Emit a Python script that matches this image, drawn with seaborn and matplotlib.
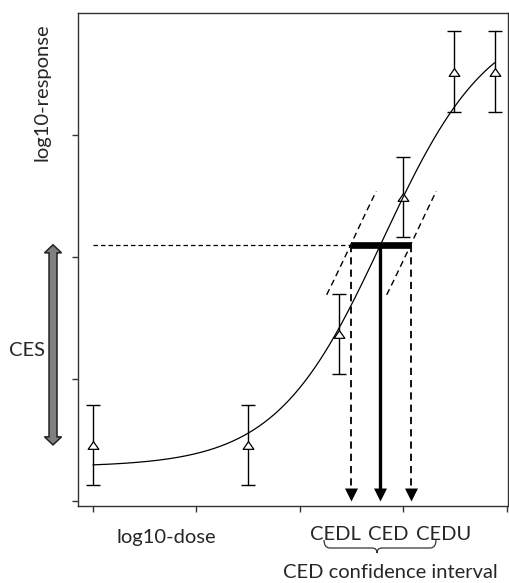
import numpy as np
import pandas as pd
import matplotlib
matplotlib.use("Agg")
import matplotlib.pyplot as plt
import seaborn as sns
from matplotlib.path import Path
from matplotlib.patches import PathPatch, Polygon
from matplotlib.transforms import Affine2D, blended_transform_factory

# Observed group means on the log10 scale, with confidence half-widths
log_dose = [0.0, 1.5, 2.38, 3.0, 3.49, 3.88]
log_resp = [0.46, 0.46, 1.37, 2.49, 3.52, 3.52]
half_ci = [0.33, 0.33, 0.33, 0.33, 0.33, 0.33]

# Fitted sigmoid dose-response model (log-dose scale)
lower, upper, steepness, midpoint = 0.28, 4.0, 1.94, 2.80

# Critical effect size level and confidence bounds of the CED
ces_level = 2.10
cedl, cedu = 2.49, 3.07
band_lo, band_hi = 1.69, 2.54   # response range of the shifted bound curves

x_ticks = [0, 1, 2, 3, 4]
y_ticks = [0, 1, 2, 3]

W, H = 510, 583


def model(x):
    return lower + (upper - lower) / (1.0 + np.exp(-steepness * (x - midpoint)))


def inverse(y):
    return midpoint - np.log((upper - lower) / (y - lower) - 1.0) / steepness


ced = inverse(ces_level)

sns.set_style("ticks")
plt.rcParams["font.family"] = ["Lato", "DejaVu Sans"]

fig = plt.figure(figsize=(W / 100, H / 100), dpi=100)
ax = fig.add_axes([78 / W, 1 - 506 / H, (508 - 78) / W, (506 - 13) / H])

# fitted curve
xc = np.linspace(log_dose[0], log_dose[-1], 400)
curve = pd.DataFrame({"log_dose": xc, "log_resp": model(xc)})
sns.lineplot(data=curve, x="log_dose", y="log_resp", ax=ax, color="black",
             lw=0.9, zorder=4)

# data: error bars and open (slightly flattened) triangles
ax.errorbar(log_dose, log_resp, yerr=half_ci, fmt="none", ecolor="black",
            elinewidth=1.0, capsize=4.7, capthick=1.0, zorder=2)
tri = Path([(-1.0, -0.72), (1.0, -0.72), (0.0, 0.72), (-1.0, -0.72)],
           [Path.MOVETO, Path.LINETO, Path.LINETO, Path.CLOSEPOLY])
ax.plot(log_dose, log_resp, linestyle="none", marker=tri, ms=7.7,
        markerfacecolor="white", markeredgecolor="black", markeredgewidth=0.9,
        zorder=3)

# curves shifted to the lower and upper CED bounds
for bound in (cedl, cedu):
    shift = bound - ced
    xs = np.linspace(inverse(band_lo), inverse(band_hi), 50)
    ax.plot(xs + shift, model(xs), color="black", lw=1.0,
            linestyle=(0, (4.5, 3.0)), zorder=4)

# CES level and the CED interval bar
ax.plot([log_dose[0], cedl], [ces_level, ces_level], color="black", lw=0.9,
        linestyle=(0, (3.6, 2.4)), zorder=4)
ax.plot([cedl, cedu], [ces_level, ces_level], color="black", lw=4.8,
        solid_capstyle="butt", zorder=5)

# arrows down to the dose axis
arrow_tip = 0.0
head = Path([(0, 0), (-0.5, 1), (0.5, 1), (0, 0)],
            [Path.MOVETO, Path.LINETO, Path.LINETO, Path.CLOSEPOLY])
for xv, style, lw in ((cedl, (0, (4.0, 2.8)), 1.3), (ced, "-", 2.4),
                      (cedu, (0, (4.0, 2.8)), 1.3)):
    ax.plot([xv, xv], [ces_level, arrow_tip + 0.1], color="black", lw=lw,
            linestyle=style, zorder=5)
    ax.plot([xv], [arrow_tip], marker=head, ms=18.7, color="black",
            markeredgewidth=0, zorder=6, clip_on=False)

# axis frame and ticks without numbers
spine_col = "#333333"
for s in ax.spines.values():
    s.set_visible(True)
    s.set_color(spine_col)
    s.set_linewidth(1.0)
ax.set_xlim(-0.145, 4.01)
ax.set_ylim(-0.041, 4.0)
ax.set_xticks(x_ticks)
ax.set_yticks(y_ticks)
ax.set_xticklabels([])
ax.set_yticklabels([])
ax.tick_params(direction="out", length=4.3, width=1.0, color=spine_col)
ax.set_xlabel("")
ax.set_ylabel("")

# CES double arrow outside the axis
bt = blended_transform_factory(ax.transAxes, ax.transData)
cx, sw, hw = -0.0581, 0.0093, 0.0198
hl = 0.066
y0, y1 = log_resp[0], ces_level
verts = [(cx, y1), (cx - hw, y1 - hl), (cx - sw, y1 - hl), (cx - sw, y0 + hl),
         (cx - hw, y0 + hl), (cx, y0), (cx + hw, y0 + hl), (cx + sw, y0 + hl),
         (cx + sw, y1 - hl), (cx + hw, y1 - hl)]
ax.add_patch(Polygon(verts, closed=True, transform=bt, facecolor="#808080",
                     edgecolor="#222222", lw=1.1, clip_on=False, zorder=5))

# text
px = Affine2D().scale(1 / W, -1 / H).translate(0, 1) + fig.transFigure
fs = 14.5
fig.text(42, 92, "log10-response", rotation=90, ha="center", va="center",
         fontsize=fs, transform=px)
fig.text(27, 350, "CES", ha="center", va="center", fontsize=fs, transform=px)
fig.text(166, 537, "log10-dose", ha="center", va="center", fontsize=fs,
         transform=px)
fig.text(335, 535, "CEDL", ha="center", va="center", fontsize=fs, transform=px)
fig.text(388.5, 535, "CED", ha="center", va="center", fontsize=fs, transform=px)
fig.text(444, 535, "CEDU", ha="center", va="center", fontsize=fs, transform=px)
fig.text(390, 573, "CED confidence interval", ha="center", va="center",
         fontsize=fs, transform=px)

# brace grouping the three CED labels
brace = Path(
    [(324, 540), (324, 548), (330, 548), (372, 548), (377, 548), (377, 553),
     (377, 548), (382, 548), (430, 548), (436, 548), (436, 540)],
    [Path.MOVETO, Path.CURVE3, Path.CURVE3, Path.LINETO, Path.CURVE3,
     Path.CURVE3, Path.CURVE3, Path.CURVE3, Path.LINETO, Path.CURVE3,
     Path.CURVE3])
fig.patches.append(PathPatch(brace, transform=px, fill=False,
                             edgecolor="#333333", lw=0.9))

fig.savefig("out.png", dpi=100)
